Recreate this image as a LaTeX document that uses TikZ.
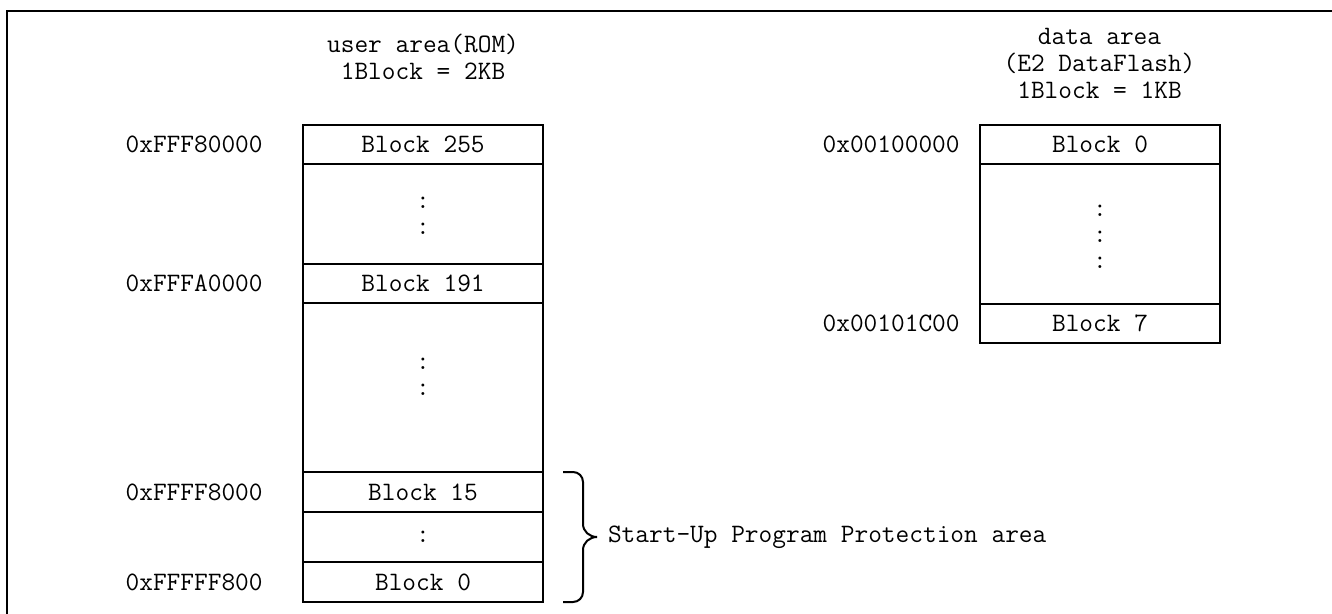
\documentclass[tikz,border=0pt]{standalone}
\usetikzlibrary{positioning}
\tikzset{%
	blk/.style={draw, rectangle, line width=1pt, minimum width=120pt, minimum height=19.5pt,%
		inner sep=0pt, outer sep=0pt, font=\ttfamily\fontsize{13.3}{13}\selectfont},
	gap/.style={blk, align=center},
	addr/.style={inner sep=0pt, font=\ttfamily\fontsize{13.3}{13}\selectfont},
	title/.style={align=center, inner sep=0pt, font=\ttfamily\fontsize{13.3}{13.5}\selectfont},
	brc/.style={line width=1pt},
	frame/.style={line width=1pt}
}
\begin{document}
\begin{tikzpicture}[x=0.5pt, y=-0.5pt]
	\useasboundingbox (0,0) rectangle (1332,614);
	\draw[frame] (7,614) -- (7,11) -- (1332,11);

	% user area
	\node[title] (utitle) at (423,56.5) {user area(ROM)\\1Block = 2KB};
	\node[blk, anchor=north west] (b255) at (303,125) {Block 255};
	\node[gap, below=0pt of b255, minimum height=50pt, label={[gap, draw=none, yshift=-1pt]center:{:\\:}}] (g1) {};
	\node[blk, below=0pt of g1] (b191) {Block 191};
	\node[gap, below=0pt of b191, minimum height=84.5pt, label={[gap, draw=none, yshift=5.5pt]center:{:\\:}}] (g2) {};
	\node[blk, below=0pt of g2, minimum height=20pt] (b15) {Block 15};
	\node[gap, below=0pt of b15, minimum height=25pt] (g3) {:};
	\node[blk, below=0pt of g3, minimum height=20pt] (b0) {Block 0};

	\node[addr, left=20pt of b255] (a255) {0xFFF80000};
	\node[addr, left=20pt of b191] (a191) {0xFFFA0000};
	\node[addr, left=20pt of b15]  (a15)  {0xFFFF8000};
	\node[addr, left=20pt of b0]   (a0)   {0xFFFFF800};

	% brace over the protected blocks
	\coordinate (bt) at ([xshift=10pt]b15.north east);
	\draw[brc] (bt) -- ++(5pt,0) to[out=0,in=90] ++(5pt,-5pt) -- ++(0,-21pt)
		to[out=-90,in=180] ++(7pt,-6.5pt)
		node[addr, anchor=west, xshift=5pt] (prot) {Start-Up Program Protection area}
		to[out=180,in=90] ++(-7pt,-6.5pt) -- ++(0,-21pt)
		to[out=-90,in=0] ++(-5pt,-5pt) -- ++(-5pt,0);

	% data area
	\node[title] (dtitle) at (1099.5,63.5) {data area\\(E2 DataFlash)\\1Block = 1KB};
	\node[blk, anchor=north west] (d0) at (980,125) {Block 0};
	\node[gap, below=0pt of d0, minimum height=70pt, label={[gap, draw=none, yshift=-1.5pt]center:{:\\:\\:}}] (dg) {};
	\node[blk, below=0pt of dg] (d7) {Block 7};

	\node[addr, left=10pt of d0] (ad0) {0x00100000};
	\node[addr, left=10pt of d7] (ad7) {0x00101C00};
\end{tikzpicture}
\end{document}
